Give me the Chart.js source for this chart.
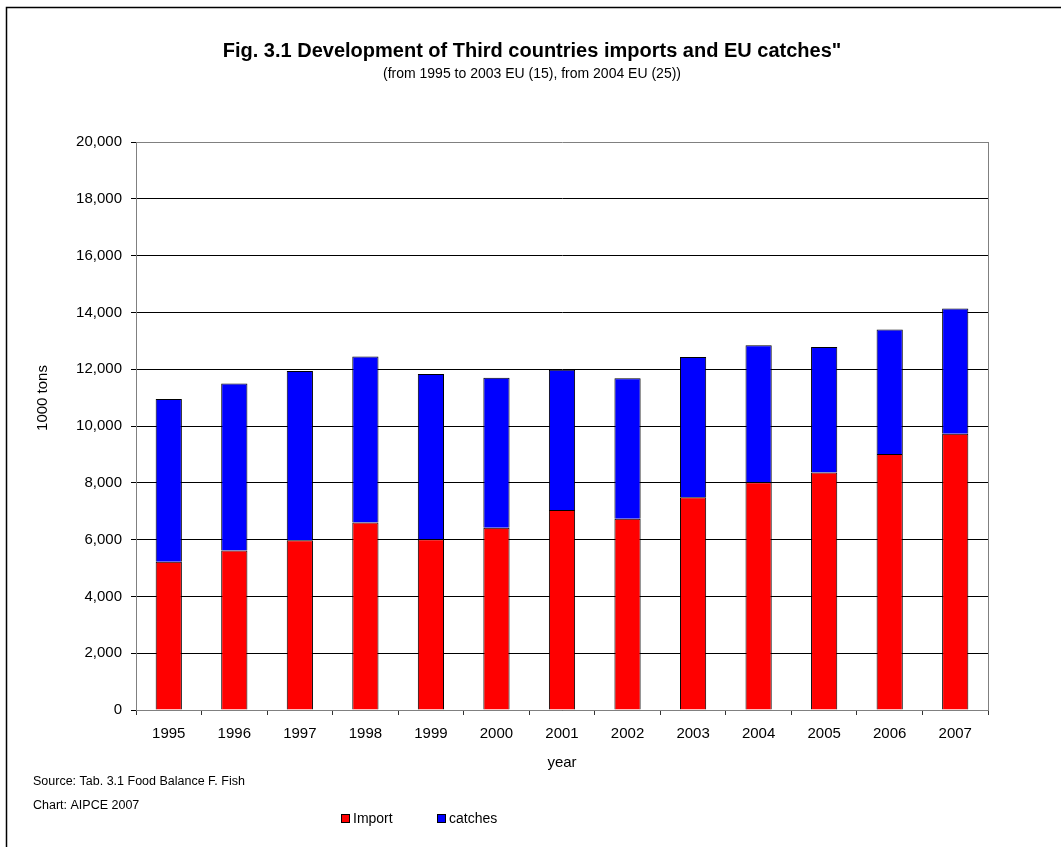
<!DOCTYPE html>
<html>
<head>
<meta charset="utf-8">
<script src="https://cdn.jsdelivr.net/npm/chart.js@4"></script>
<style>
  html, body { margin: 0; padding: 0; background: #fff; }
  #wrap { position: relative; width: 1061px; height: 847px; }
</style>
</head>
<body>
<div id="wrap"><canvas id="fishChart" width="1061" height="847"></canvas></div>
<script>
const years = ["1995", "1996", "1997", "1998", "1999", "2000", "2001", "2002", "2003", "2004", "2005", "2006", "2007"];
const importTons = [5220, 5620, 5975, 6600, 6010, 6420, 7040, 6730, 7490, 8020, 8360, 9010, 9730];
const catchesTons = [5730, 5880, 5965, 5850, 5820, 5280, 4940, 4950, 4940, 4820, 4420, 4390, 4410];
const yTicks = [0, 2000, 4000, 6000, 8000, 10000, 12000, 14000, 16000, 18000, 20000];

const titleText = 'Fig. 3.1 Development of Third countries imports and EU catches"';
const subtitleText = "(from 1995 to 2003 EU (15), from 2004 EU (25))";
const yTitleText = "1000 tons";
const sourceLines = ["Source: Tab. 3.1 Food Balance F. Fish", "Chart: AIPCE 2007"];

const FONT = "Arial, 'Liberation Sans', sans-serif";

// frame, titles, notes, legend and the plot border
const decorations = {
  id: "decorations",
  beforeDraw(chart) {
    const c = chart.ctx;
    c.save();
    c.strokeStyle = "#000";
    c.lineWidth = 1.5;
    c.beginPath();
    c.moveTo(6.5, 848);
    c.lineTo(6.5, 7.5);
    c.lineTo(1062, 7.5);
    c.stroke();
    c.restore();
  },
  afterDraw(chart) {
    const c = chart.ctx;
    const a = chart.chartArea;
    c.save();
    // right side of the plot box
    c.strokeStyle = "#808080";
    c.lineWidth = 1;
    c.beginPath();
    c.moveTo(a.right + 0.5, a.top);
    c.lineTo(a.right + 0.5, a.bottom);
    c.stroke();

    c.fillStyle = "#000";
    c.textAlign = "center";
    c.textBaseline = "middle";
    c.font = "bold 20px " + FONT;
    c.fillText(titleText, 532, 51);
    c.font = "14px " + FONT;
    c.fillText(subtitleText, 532, 74);

    // y axis title
    c.save();
    c.translate(43, 398);
    c.rotate(-Math.PI / 2);
    c.font = "15px " + FONT;
    c.fillText(yTitleText, 0, 0);
    c.restore();

    c.textAlign = "left";
    c.font = "12.5px " + FONT;
    c.fillText(sourceLines[0], 33, 782);
    c.fillText(sourceLines[1], 33, 806);

    // legend from the datasets
    const legendX = [341, 437];
    c.font = "14px " + FONT;
    chart.data.datasets.forEach((ds, i) => {
      const x = legendX[i];
      c.fillStyle = ds.backgroundColor;
      c.fillRect(x, 814, 9, 9);
      c.strokeStyle = "#000";
      c.strokeRect(x + 0.5, 814.5, 8, 8);
      c.fillStyle = "#000";
      c.fillText(ds.label, x + 12, 819);
    });
    c.restore();
  }
};

new Chart(document.getElementById("fishChart").getContext("2d"), {
  type: "bar",
  data: {
    labels: years,
    datasets: [
      { label: "Import", data: importTons, backgroundColor: "#FF0000", borderColor: "#000", borderWidth: 1 },
      { label: "catches", data: catchesTons, backgroundColor: "#0000FF", borderColor: "#000", borderWidth: 1 }
    ]
  },
  options: {
    responsive: false,
    animation: false,
    layout: { padding: { top: 142, bottom: 67, left: 0, right: 73 } },
    datasets: { bar: { barPercentage: 0.4, categoryPercentage: 1 } },
    plugins: { legend: { display: false }, tooltip: { enabled: false } },
    scales: {
      x: {
        stacked: true,
        afterFit(s) { s.height = 70; },
        grid: { offset: true, drawOnChartArea: false, tickLength: 5, color: "#333" },
        border: { color: "#808080" },
        ticks: { color: "#000", padding: 10, font: { family: FONT, size: 15 }, maxRotation: 0 },
        title: { display: true, text: "year", color: "#000", font: { family: FONT, size: 15 }, padding: { top: 0, bottom: 8 } }
      },
      y: {
        stacked: true,
        min: 0,
        max: 20000,
        afterFit(s) { s.width = 136; },
        afterBuildTicks(s) { s.ticks = yTicks.map(v => ({ value: v })); },
        grid: {
          tickLength: 5,
          color: ctx => (ctx.tick && ctx.tick.value === 20000 ? "#808080" : "#000"),
          tickColor: "#000"
        },
        border: { color: "#808080" },
        ticks: {
          color: "#000",
          padding: 9,
          font: { family: FONT, size: 15 },
          callback: v => v.toLocaleString("en-US")
        }
      }
    }
  },
  plugins: [decorations]
});
</script>
</body>
</html>
